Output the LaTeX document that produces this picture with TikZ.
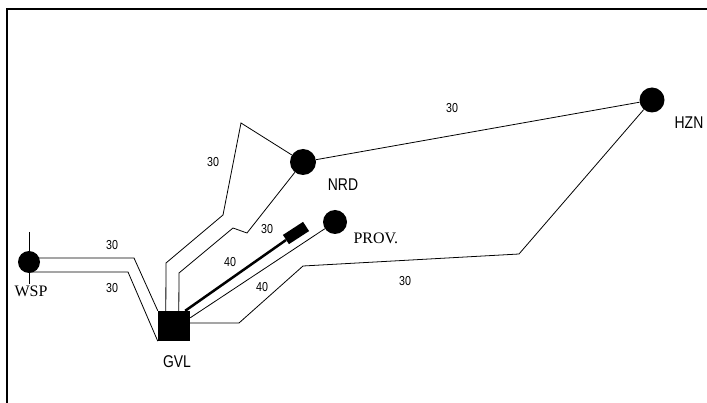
\documentclass[tikz,border=0pt]{standalone}
\usepackage{fontspec}
\setmainfont{Liberation Serif}
\newfontfamily\narrowsf[FakeStretch=0.82]{Liberation Sans}
\begin{document}
\begin{tikzpicture}[x=1pt,y=-1pt,
    town/.style={circle,fill=black,inner sep=0pt,minimum size=24pt},
    hub/.style={rectangle,fill=black,inner sep=0pt,minimum width=32pt,minimum height=30pt},
    link/.style={black,line width=0.8pt},
    dist/.style={font=\narrowsf\fontsize{13}{13}\selectfont},
    sfname/.style={font=\narrowsf\fontsize{17}{17}\selectfont},
    rmname/.style={font=\fontsize{16}{16}\selectfont}]
    % Define dimensions
    \def\picwidth{707}
    \def\picheight{403}
    \useasboundingbox (0,0) rectangle (\picwidth,\picheight);
    % Draw open frame (top and left only)
    \draw[line width=2.5pt] (7,\picheight) -- (7,9) -- (\picwidth,9);
    % Stations
    \node[hub] (gvl) at (174,326) {};
    \node[town,minimum size=22pt] (wsp) at (29,262) {};
    \node[town,minimum size=26pt] (nrd) at (303,162) {};
    \node[town,minimum size=25pt] (hzn) at (652,100) {};
    \node[town] (prov) at (335,222) {};
    \node[fill=black,rotate=33,inner sep=0pt,minimum width=24pt,minimum height=11pt] (blk) at (296,233) {};
    % Free ends of the stub through WSP
    \coordinate (wsptop) at (29,232);
    \coordinate (wspbot) at (29,284);
    % Draw links
    \draw[link] (wsptop) -- (wspbot);
    \draw[link] ([yshift=4pt]wsp.center) -- (134,258) -- (gvl.north west);
    \draw[link] ([yshift=-10pt]wsp.center) -- (128,272) -- (gvl.south west);
    \draw[link] ([xshift=8pt]gvl.north west) -- (166,263) -- (223,215) -- (241,123) -- (nrd);
    \draw[link] ([xshift=21pt]gvl.north west) -- (179,273) -- (233,228) -- (247,233) -- (nrd);
    \draw[line width=2.5pt] ([xshift=-5pt]gvl.north east) -- (blk);
    \draw[link] ([yshift=-7pt]gvl.north east) -- (prov);
    \draw[link] (nrd) -- (hzn);
    \draw[link] ([yshift=3pt]gvl.east) -- (239,323) -- (303,266) -- (519,254) -- (hzn);
    % Distance labels
    \node[dist] (d1) at (112,245) {30};
    \node[dist] (d2) at (112,288) {30};
    \node[dist] (d3) at (213,162) {30};
    \node[dist] (d4) at (267,229) {30};
    \node[dist] (d5) at (230,262) {40};
    \node[dist] (d6) at (262,287) {40};
    \node[dist] (d7) at (452,108) {30};
    \node[dist] (d8) at (405,281) {30};
    % Station names
    \node[sfname] (nrdname) at (343,185) {NRD};
    \node[sfname] (hznname) at (689,123) {HZN};
    \node[sfname] (gvlname) at (177,362) {GVL};
    \node[rmname] (wspname) at (31,291) {WSP};
    \node[rmname,anchor=west] (provname) at (350,238) {PROV.};
\end{tikzpicture}
\end{document}
